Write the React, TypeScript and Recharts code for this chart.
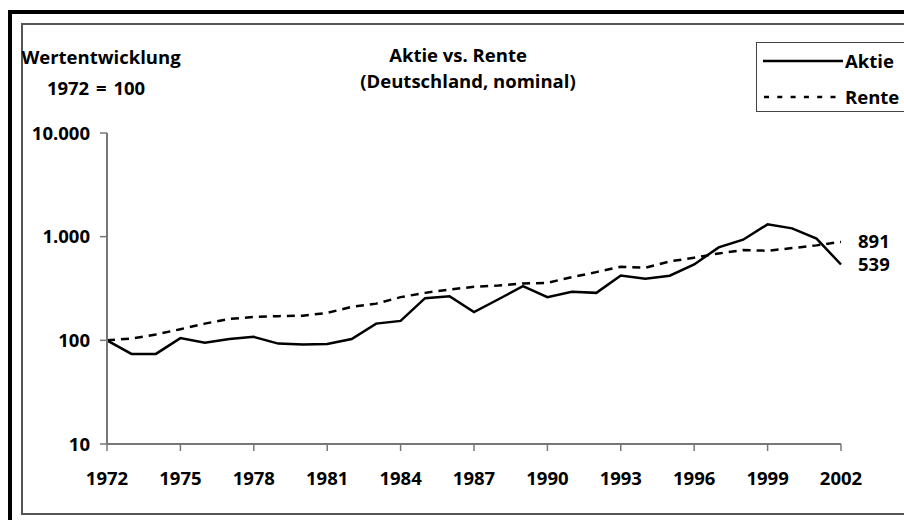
import { LineChart, Line, XAxis, YAxis, Legend, LabelList } from "recharts"

const years = [
  1972, 1973, 1974, 1975, 1976, 1977, 1978, 1979, 1980, 1981,
  1982, 1983, 1984, 1985, 1986, 1987, 1988, 1989, 1990, 1991,
  1992, 1993, 1994, 1995, 1996, 1997, 1998, 1999, 2000, 2001, 2002,
]

// Aktie (stocks), 1972 = 100
const aktie = [
  100, 74, 74, 105, 95, 103, 108, 93, 91, 92,
  103, 145, 154, 255, 266, 187, 249, 333, 261, 294,
  287, 422, 392, 420, 540, 788, 935, 1315, 1203, 957, 539,
]

// Rente (bonds), 1972 = 100
const rente = [
  100, 104, 114, 128, 145, 161, 168, 171, 173, 184,
  210, 226, 261, 287, 309, 328, 338, 353, 359, 407,
  455, 513, 501, 577, 627, 689, 742, 732, 776, 824, 891,
]

const xTicks = [1972, 1975, 1978, 1981, 1984, 1987, 1990, 1993, 1996, 1999, 2002]
const yTicks = [10, 100, 1000, 10000]

const data = years.map((year, i) => ({ year, aktie: aktie[i], rente: rente[i] }))

const FONT = "'Open Sans', 'DejaVu Sans', sans-serif"
const FS = 18.5

const fmt = (v: number) => String(v).replace(/\B(?=(\d{3})+(?!\d))/g, ".")

const endLabel = (props: any) => {
  const { x, y, value, index } = props
  if (index !== data.length - 1) return null
  return (
    <text x={x + 17} y={y} dy="0.35em" fontFamily={FONT} fontSize={FS} fontWeight={700} fill="#000">
      {fmt(value)}
    </text>
  )
}

const renderLegend = () => (
  <div style={{ position: "relative", width: 170, height: 68, border: "1px solid #444", background: "#fff", fontFamily: FONT, fontSize: FS, fontWeight: 700 }}>
    <svg width={80} height={68} style={{ position: "absolute", left: 6, top: 0 }}>
      <line x1={0} y1={18} x2={80} y2={18} stroke="#000" strokeWidth={2.5} />
      <line x1={1} y1={54} x2={80} y2={54} stroke="#000" strokeWidth={2.5} strokeDasharray="5 8.3" />
    </svg>
    <div style={{ position: "absolute", left: 88, top: 18, transform: "translateY(-50%)", lineHeight: 1 }}>Aktie</div>
    <div style={{ position: "absolute", left: 88, top: 54, transform: "translateY(-50%)", lineHeight: 1 }}>Rente</div>
  </div>
)

const titleStyle = (left: number, top: number): React.CSSProperties => ({
  position: "absolute",
  left,
  top,
  transform: "translate(-50%, -50%)",
  whiteSpace: "nowrap",
  fontFamily: FONT,
  fontSize: FS,
  fontWeight: 700,
  lineHeight: 1,
  color: "#000",
})

export default function App() {
  return (
    <div style={{ position: "absolute", left: 0, top: 0, width: 904, height: 520, overflow: "hidden", background: "#fff" }}>
      {/* outer thick frame and inner thin frame, both run off the right edge */}
      <div style={{ position: "absolute", left: 8, top: 10, width: 1000, height: 1000, border: "4px solid #000", boxSizing: "border-box" }} />
      <div style={{ position: "absolute", left: 21, top: 23, width: 1000, height: 492, border: "2px solid #555", boxSizing: "border-box" }} />

      <div style={titleStyle(101, 57)}>Wertentwicklung</div>
      <div style={{ ...titleStyle(96, 88), wordSpacing: 2 }}>1972 = 100</div>
      <div style={titleStyle(458, 55)}>Aktie vs. Rente</div>
      <div style={titleStyle(468, 81)}>(Deutschland, nominal)</div>

      <div style={{ position: "absolute", left: 0, top: 0 }}>
        <LineChart width={904} height={520} data={data} margin={{ top: 133, right: 63, bottom: 46, left: 0 }}>
          <XAxis
            dataKey="year"
            type="number"
            domain={[1972, 2002]}
            ticks={xTicks}
            height={30}
            axisLine={{ stroke: "#777", strokeWidth: 2 }}
            tickLine={{ stroke: "#777", strokeWidth: 1.5 }}
            tickSize={7}
            tickMargin={21}
            tick={{ fill: "#000", fontFamily: FONT, fontSize: FS, fontWeight: 700 }}
          />
          <YAxis
            scale="log"
            domain={[10, 10000]}
            ticks={yTicks}
            allowDataOverflow
            width={107}
            axisLine={{ stroke: "#777", strokeWidth: 2 }}
            tickLine={{ stroke: "#777", strokeWidth: 1.5 }}
            tickSize={7}
            tickMargin={10}
            tickFormatter={fmt}
            tick={{ fill: "#000", fontFamily: FONT, fontSize: FS, fontWeight: 700 }}
          />
          <Legend
            layout="horizontal"
            verticalAlign="middle"
            align="center"
            content={renderLegend}
            wrapperStyle={{ left: 756, top: 42, width: 170, height: 70 }}
          />
          <Line
            type="linear"
            dataKey="rente"
            name="Rente"
            stroke="#000"
            strokeWidth={2.5}
            strokeDasharray="8 6"
            dot={false}
            isAnimationActive={false}
          >
            <LabelList dataKey="rente" content={endLabel} />
          </Line>
          <Line
            type="linear"
            dataKey="aktie"
            name="Aktie"
            stroke="#000"
            strokeWidth={2.5}
            dot={false}
            isAnimationActive={false}
          >
            <LabelList dataKey="aktie" content={endLabel} />
          </Line>
        </LineChart>
      </div>
    </div>
  )
}
